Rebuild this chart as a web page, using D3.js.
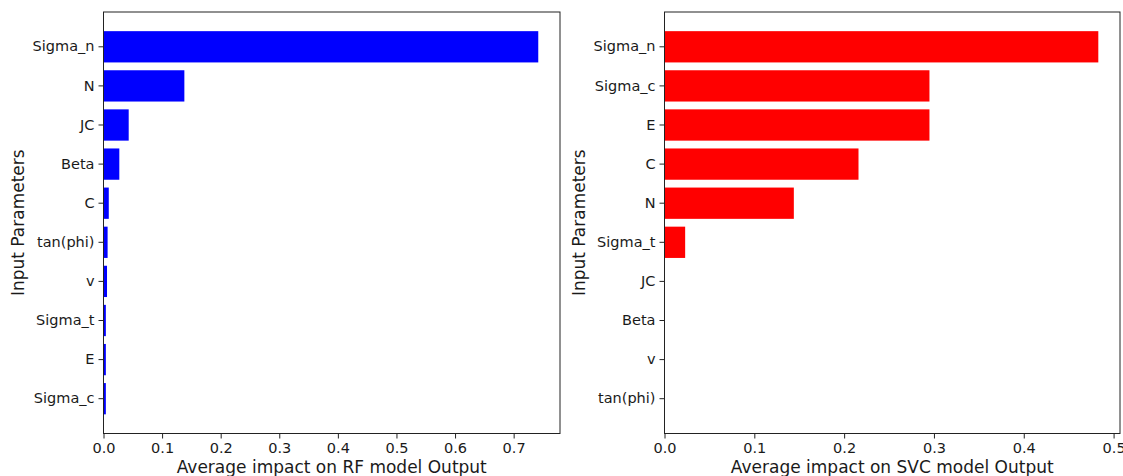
<!DOCTYPE html>
<html>
<head>
<meta charset="utf-8">
<script src="https://cdn.jsdelivr.net/npm/d3@7"></script>
<style>
  body { margin: 0; background: #fff; }
  svg { display: block; font-family: "DejaVu Sans", sans-serif; }
</style>
</head>
<body>
<svg id="chart" width="1123" height="476"></svg>
<script>
// feature importances, top to bottom as drawn
const rfNames = ["Sigma_n", "N", "JC", "Beta", "C", "tan(phi)", "v", "Sigma_t", "E", "Sigma_c"]
const rfValues = [0.742, 0.138, 0.043, 0.027, 0.009, 0.007, 0.006, 0.004, 0.004, 0.004]
const svcNames = ["Sigma_n", "Sigma_c", "E", "C", "N", "Sigma_t", "JC", "Beta", "v", "tan(phi)"]
const svcValues = [0.483, 0.295, 0.295, 0.216, 0.144, 0.023, 0, 0, 0, 0]
const rfTicks = [0, 0.1, 0.2, 0.3, 0.4, 0.5, 0.6, 0.7]
const svcTicks = [0, 0.1, 0.2, 0.3, 0.4, 0.5]

const svg = d3.select("#chart")
const plotTop = 12, plotBottom = 433.5

function panel(names, values, ticks, left, right, color, xlabel, ylabelX) {
  const xmax = d3.max(values) * 1.05
  const x = d3.scaleLinear().domain([0, xmax]).range([left, right])
  const y = d3.scaleBand().domain(names).range([plotTop, plotBottom])
    .paddingInner(0.2).paddingOuter(0.49)

  const g = svg.append("g")

  g.append("g")
    .selectAll("rect")
    .data(names.map((n, i) => ({name: n, value: values[i]})))
    .join("rect")
      .attr("x", x(0))
      .attr("y", d => y(d.name))
      .attr("width", d => x(d.value) - x(0))
      .attr("height", y.bandwidth())
      .attr("fill", color)

  // x axis
  g.append("g")
    .attr("transform", `translate(0,${plotBottom})`)
    .call(d3.axisBottom(x).tickValues(ticks).tickFormat(d3.format(".1f")).tickSize(5).tickPadding(4))
    .call(a => a.select(".domain").remove())
    .call(a => a.selectAll("text").attr("font-size", 14.5).attr("fill", "#1a1a1a").attr("font-family", "DejaVu Sans"))
    .call(a => a.selectAll("line").attr("stroke", "#222"))

  // y axis
  g.append("g")
    .attr("transform", `translate(${left},0)`)
    .call(d3.axisLeft(y).tickSize(5).tickPadding(4))
    .call(a => a.select(".domain").remove())
    .call(a => a.selectAll("text").attr("font-size", 14.5).attr("fill", "#1a1a1a").attr("font-family", "DejaVu Sans"))
    .call(a => a.selectAll("line").attr("stroke", "#222"))

  // frame
  g.append("rect")
    .attr("x", left).attr("y", plotTop)
    .attr("width", right - left).attr("height", plotBottom - plotTop)
    .attr("fill", "none").attr("stroke", "#222").attr("stroke-width", 1)

  g.append("text")
    .attr("x", (left + right) / 2)
    .attr("y", 473)
    .attr("text-anchor", "middle")
    .attr("font-size", 17)
    .attr("fill", "#1a1a1a")
    .text(xlabel)

  g.append("text")
    .attr("transform", `translate(${ylabelX},${(plotTop + plotBottom) / 2}) rotate(-90)`)
    .attr("text-anchor", "middle")
    .attr("font-size", 17)
    .attr("fill", "#1a1a1a")
    .text("Input Parameters")
}

panel(rfNames, rfValues, rfTicks, 103.5, 560, "#0000ff", "Average impact on RF model Output", 24)
panel(svcNames, svcValues, svcTicks, 664.5, 1120, "#ff0000", "Average impact on SVC model Output", 585)
</script>
</body>
</html>
